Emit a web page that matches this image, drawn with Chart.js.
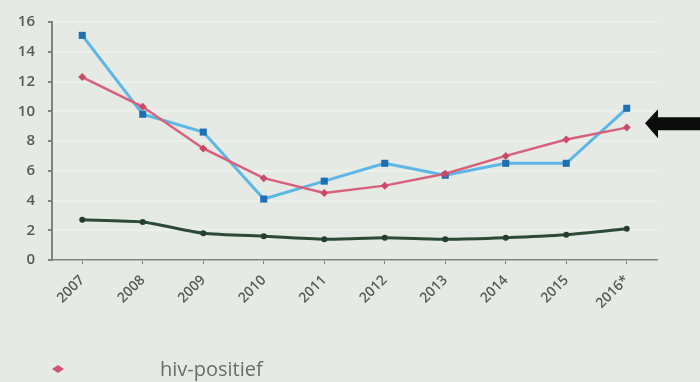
<!DOCTYPE html>
<html>
<head>
<meta charset="utf-8">
<script src="https://cdn.jsdelivr.net/npm/chart.js@4/dist/chart.umd.min.js"></script>
<style>
    html, body { margin: 0; padding: 0; background: #e5eae5; }
    #wrap { width: 700px; height: 382px; position: relative; }
</style>
</head>
<body>
<div id="wrap"><canvas id="trend"></canvas></div>
<script>
const years = ['2007', '2008', '2009', '2010', '2011', '2012', '2013', '2014', '2015', '2016*'];
const hivPositief = [12.3, 10.3, 7.5, 5.5, 4.5, 5.0, 5.8, 7.0, 8.1, 8.9];
const blueSeries = [15.1, 9.8, 8.6, 4.1, 5.3, 6.5, 5.7, 6.5, 6.5, 10.2];
const greenSeries = [2.7, 2.55, 1.8, 1.6, 1.4, 1.5, 1.4, 1.5, 1.7, 2.1];
const yTicks = [0, 2, 4, 6, 8, 10, 12, 14, 16];

const axisGrey = '#7e837e';
const labelGrey = '#575a57';

// black arrow on the right edge + legend row underneath
const extras = {
    id: 'extras',
    afterDraw(chart) {
        const ctx = chart.ctx;
        const y = chart.scales.y.getPixelForValue(9.2);
        ctx.save();
        ctx.fillStyle = '#0c0c0c';
        ctx.beginPath();
        ctx.moveTo(645, y);
        ctx.lineTo(658, y - 14);
        ctx.lineTo(658, y - 6);
        ctx.lineTo(700, y - 6);
        ctx.lineTo(700, y + 7);
        ctx.lineTo(658, y + 7);
        ctx.lineTo(658, y + 15);
        ctx.closePath();
        ctx.fill();

        // legend
        ctx.fillStyle = '#cf5573';
        ctx.beginPath();
        ctx.moveTo(52, 369);
        ctx.lineTo(58, 365);
        ctx.lineTo(64, 369);
        ctx.lineTo(58, 373);
        ctx.closePath();
        ctx.fill();
        ctx.fillStyle = '#6a6d6a';
        ctx.font = '20px "Open Sans"';
        ctx.textBaseline = 'alphabetic';
        ctx.fillText('hiv-positief', 160, 376);
        ctx.restore();
    }
};

new Chart(document.getElementById('trend'), {
    type: 'line',
    data: {
        labels: years,
        datasets: [{
            label: 'hiv-positief',
            data: hivPositief,
            borderColor: '#d8607c',
            backgroundColor: '#c94a68',
            borderWidth: 2.5,
            pointStyle: 'rectRot',
            pointRadius: 4,
            pointBorderWidth: 0,
            tension: 0
        }, {
            label: 'blue',
            data: blueSeries,
            borderColor: '#5db7e6',
            backgroundColor: '#1f6fb2',
            borderWidth: 3,
            pointStyle: 'rect',
            pointRadius: 5,
            pointBorderWidth: 0,
            tension: 0
        }, {
            label: 'green',
            data: greenSeries,
            borderColor: '#2d4a36',
            backgroundColor: '#243d2c',
            borderWidth: 3,
            pointRadius: 3,
            pointBorderWidth: 0,
            tension: 0.2
        }]
    },
    options: {
        responsive: true,
        maintainAspectRatio: false,
        animation: false,
        layout: { padding: { top: 20, right: 43, left: 0, bottom: 0 } },
        plugins: {
            legend: { display: false },
            tooltip: { enabled: false }
        },
        scales: {
            x: {
                offset: true,
                grid: {
                    offset: false,
                    drawOnChartArea: false,
                    color: axisGrey,
                    tickLength: 4
                },
                border: { display: true, color: axisGrey, width: 1.5 },
                ticks: {
                    color: labelGrey,
                    minRotation: 45,
                    maxRotation: 45,
                    padding: 8,
                    font: { family: 'Open Sans', size: 14, weight: 600 }
                },
                afterFit(scale) { scale.height = 122; }
            },
            y: {
                min: 0,
                max: 16,
                afterBuildTicks(scale) { scale.ticks = yTicks.map(v => ({ value: v })); },
                grid: {
                    color: '#edf1ed',
                    lineWidth: 2,
                    tickColor: axisGrey,
                    tickLength: 4
                },
                border: { display: true, color: axisGrey, width: 2 },
                ticks: {
                    color: labelGrey,
                    padding: 13,
                    font: { family: 'Open Sans', size: 15, weight: 600 }
                },
                afterFit(scale) { scale.width = 52; }
            }
        }
    },
    plugins: [extras]
});
</script>
</body>
</html>
